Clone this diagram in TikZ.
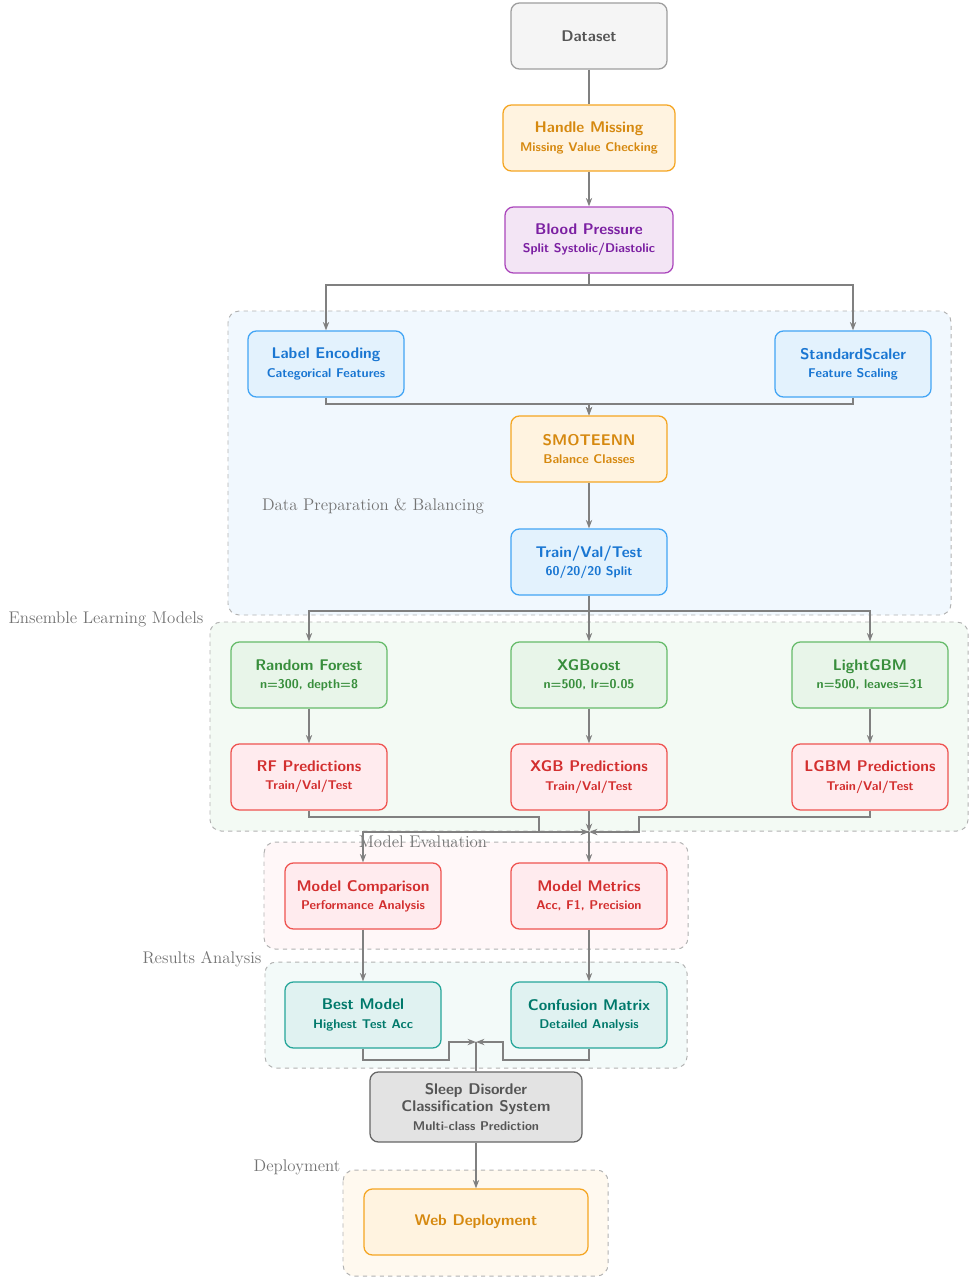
\documentclass[tikz,border=0pt]{standalone}
\usepackage{tikz}
\usetikzlibrary{positioning,arrows.meta}
\definecolor{orgT}{HTML}{D68910}\definecolor{orgF}{HTML}{FFF3E0}\definecolor{orgD}{HTML}{F5A623}
\definecolor{purT}{HTML}{7B1FA2}\definecolor{purF}{HTML}{F3E5F5}\definecolor{purD}{HTML}{AB47BC}
\definecolor{bluT}{HTML}{1976D2}\definecolor{bluF}{HTML}{E3F2FD}\definecolor{bluD}{HTML}{42A5F5}
\definecolor{grnT}{HTML}{388E3C}\definecolor{grnF}{HTML}{E8F5E9}\definecolor{grnD}{HTML}{66BB6A}
\definecolor{redT}{HTML}{D32F2F}\definecolor{redF}{HTML}{FFEBEE}\definecolor{redD}{HTML}{EF5350}
\definecolor{tlT}{HTML}{00796B}\definecolor{tlF}{HTML}{E0F2F1}\definecolor{tlD}{HTML}{26A69A}
\definecolor{gryT}{HTML}{555555}\definecolor{gryF}{HTML}{F5F5F5}\definecolor{gryD}{HTML}{9E9E9E}
\tikzset{
  box/.style={draw,rounded corners=6pt,line width=0.9pt,minimum width=3.9cm,minimum height=1.65cm,
    align=center,font=\sffamily\bfseries},
  orgbox/.style={box,draw=orgD,fill=orgF,text=orgT},
  purbox/.style={box,draw=purD,fill=purF,text=purT},
  blubox/.style={box,draw=bluD,fill=bluF,text=bluT},
  grnbox/.style={box,draw=grnD,fill=grnF,text=grnT},
  redbox/.style={box,draw=redD,fill=redF,text=redT},
  tlbox/.style={box,draw=tlD,fill=tlF,text=tlT},
  grybox/.style={box,draw=gryD,fill=gryF,text=gryT},
  group/.style={draw=gray!60,dashed,rounded corners=8pt,line width=0.7pt},
  grouplabel/.style={text=gray!90!black,font=\fontsize{12}{14}\selectfont},
  flow/.style={draw=gray,line width=0.9pt,-{Stealth[length=6pt]}},
  line/.style={draw=gray,line width=0.9pt}
}
\newcommand{\ttsize}{\fontsize{11}{13}\selectfont}
\newcommand{\tl}[2]{{\ttsize #1}\\[1pt]{\small #2}}
\begin{document}
\begin{tikzpicture}[x=0.025cm,y=-0.025cm]
\useasboundingbox (0,0) rectangle (972,1280);
% groups
\draw[group,fill=bluF!50] (228,311) rectangle (951,615);
\draw[group,fill=grnF!50] (210,622) rectangle (968,831);
\draw[group,fill=redF!40] (264,842) rectangle (688,949);
\draw[group,fill=tlF!40] (265,962) rectangle (687,1068);
\draw[group,fill=orgF!50] (343,1170) rectangle (608,1276);
\node[grouplabel] (gprep) at (373,506) {Data Preparation \& Balancing};
\node[grouplabel] (gens) at (106,619) {Ensemble Learning Models};
\node[grouplabel] (geval) at (423,842) {Model Evaluation};
\node[grouplabel] (gres) at (202,959) {Results Analysis};
\node[grouplabel] (gdep) at (297,1167) {Deployment};
% nodes
\node[grybox] (data) at (589,36) {\ttsize Dataset};
\node[orgbox,minimum width=4.3cm] (miss) at (589,138) {\tl{Handle Missing}{Missing Value Checking}};
\node[purbox,minimum width=4.2cm] (bp) at (589,240) {\tl{Blood Pressure}{Split Systolic/Diastolic}};
\node[blubox] (lenc) at (326,364) {\tl{Label Encoding}{Categorical Features}};
\node[blubox] (scal) at (853,364) {\tl{StandardScaler}{Feature Scaling}};
\node[orgbox] (smote) at (589,449) {\tl{SMOTEENN}{Balance Classes}};
\node[blubox] (split) at (589,562) {\tl{Train/Val/Test}{60/20/20 Split}};
\node[grnbox] (rf) at (309,675) {\tl{Random Forest}{n=300, depth=8}};
\node[grnbox] (xgb) at (589,675) {\tl{XGBoost}{n=500, lr=0.05}};
\node[grnbox] (lgbm) at (870,675) {\tl{LightGBM}{n=500, leaves=31}};
\node[redbox] (rfp) at (309,777) {\tl{RF Predictions}{Train/Val/Test}};
\node[redbox] (xgbp) at (589,777) {\tl{XGB Predictions}{Train/Val/Test}};
\node[redbox] (lgbmp) at (870,777) {\tl{LGBM Predictions}{Train/Val/Test}};
\node[redbox] (comp) at (363,896) {\tl{Model Comparison}{Performance Analysis}};
\node[redbox] (metr) at (589,896) {\tl{Model Metrics}{Acc, F1, Precision}};
\node[tlbox] (best) at (363,1015) {\tl{Best Model}{Highest Test Acc}};
\node[tlbox] (conf) at (589,1015) {\tl{Confusion Matrix}{Detailed Analysis}};
\node[box,draw=gray!80!black,fill=gray!22,text=gryT,minimum width=5.3cm,minimum height=1.75cm] (sys) at (476,1107)
  {{\ttsize Sleep Disorder}\\{\ttsize Classification System}\\[1pt]{\small Multi-class Prediction}};
\node[orgbox,minimum width=5.6cm] (web) at (476,1222) {\ttsize Web Deployment};
\coordinate (hub) at (589,832);
\coordinate (hub2) at (476,1042);
% connectors
\draw[line] (data) -- (miss);
\draw[flow] (miss) -- (bp);
\draw[flow] (bp.south) |- (326,285) -- (lenc.north);
\draw[flow] (bp.south) |- (853,285) -- (scal.north);
\draw[flow] (lenc.south) |- (589,404) -- (smote.north);
\draw[flow] (scal.south) |- (589,404) -- (smote.north);
\draw[flow] (smote) -- (split);
\draw[flow] (split.south) |- (309,611) -- (rf.north);
\draw[flow] (split) -- (xgb);
\draw[flow] (split.south) |- (870,611) -- (lgbm.north);
\draw[flow] (rf) -- (rfp);
\draw[flow] (xgb) -- (xgbp);
\draw[flow] (lgbm) -- (lgbmp);
\draw[flow] (rfp.south) |- (539,817) |- (hub);
\draw[flow] (xgbp) -- (hub);
\draw[flow] (lgbmp.south) |- (639,817) |- (hub);
\draw[flow] (hub) -| (comp.north);
\draw[flow] (hub) -- (metr);
\draw[flow] (comp) -- (best);
\draw[flow] (metr) -- (conf);
\draw[flow] (best.south) |- (449,1060) |- (hub2);
\draw[flow] (conf.south) |- (503,1060) |- (hub2);
\draw[line] (hub2) -- (sys.north);
\draw[flow] (sys) -- (web);
\end{tikzpicture}
\end{document}
